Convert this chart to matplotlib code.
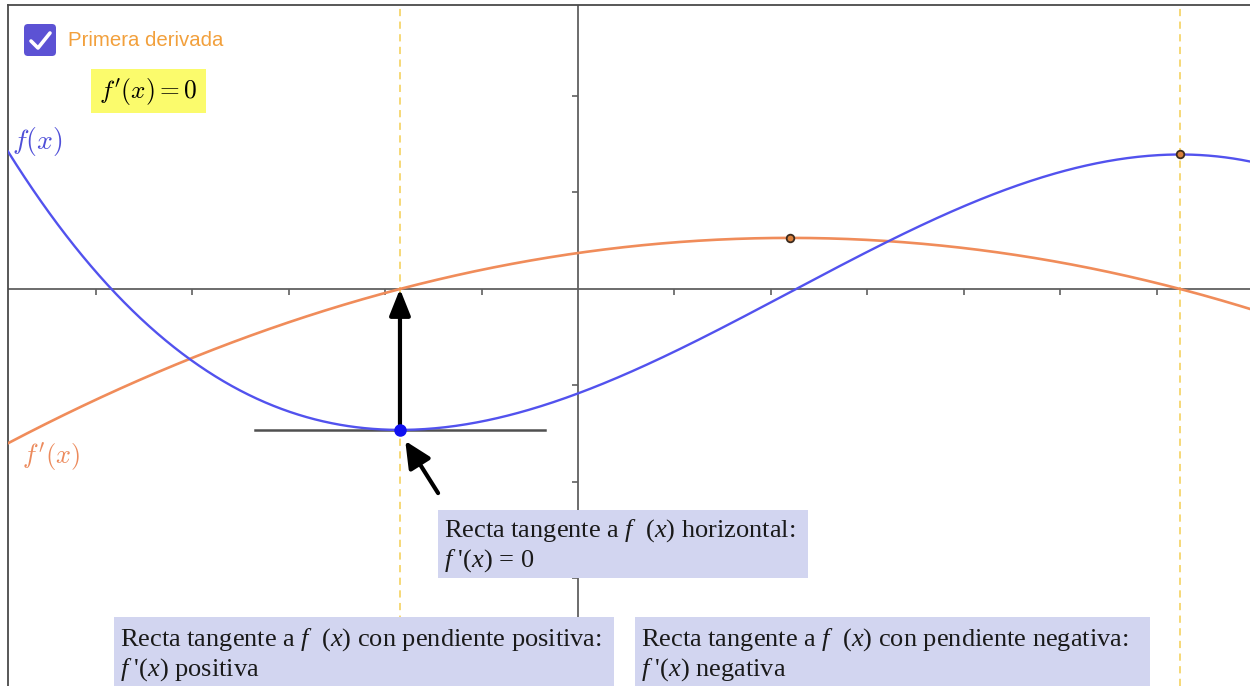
import numpy as np
import matplotlib.pyplot as plt
from matplotlib.patches import Rectangle, FancyBboxPatch
from matplotlib.transforms import Affine2D

plt.rcParams['mathtext.fontset'] = 'custom'
plt.rcParams['mathtext.rm'] = 'Liberation Serif'
plt.rcParams['mathtext.it'] = 'Liberation Serif:italic'

# f'(x) = k (x - r1)(x - r2), f is its antiderivative with f(0) = f0
deriv_roots = [-1.845, 6.24]
deriv_k = -0.0324
f0 = -1.082

x_ticks = [-5, -4, -3, -2, -1, 1, 2, 3, 4, 5, 6]
y_ticks = [-4, -3, -2, -1, 1, 2]
tangent_half = 1.5

W, H = 1250, 686
fig = plt.figure(figsize=(W / 100, H / 100), dpi=100)
# overlay positions in pixels, origin top-left
px = Affine2D().scale(1 / W, -1 / H).translate(0, 1) + fig.transFigure

ax = fig.add_axes([8 / W, 0, 1 - 8 / W, 681 / H])
ax.set_xlim(-5.907, 6.964)
ax.set_ylim(-4.114, 2.943)
ax.set_xticks([])
ax.set_yticks([])
for side in ['right', 'bottom']:
    ax.spines[side].set_visible(False)
for side in ['top', 'left']:
    ax.spines[side].set_color('#4a4a4a')
    ax.spines[side].set_linewidth(1.3)

dcoef = deriv_k * np.poly(deriv_roots)
fcoef = np.polyint(dcoef, k=f0)
f = lambda t: np.polyval(fcoef, t)
df = lambda t: np.polyval(dcoef, t)

x_lo, x_hi = ax.get_xlim()
xs = np.linspace(x_lo, x_hi, 600)

# axes
ax.axhline(0, color='#606060', lw=1.3, zorder=1)
ax.axvline(0, color='#606060', lw=1.3, zorder=1)
ax.plot(x_ticks, np.zeros(len(x_ticks)), ls='', marker=3, ms=4, mew=1.2, color='#606060')
ax.plot(np.zeros(len(y_ticks)), y_ticks, ls='', marker=0, ms=4, mew=1.2, color='#606060')

x_min, x_max = deriv_roots
x_top = np.mean(deriv_roots)
for xv in deriv_roots:
    ax.axvline(xv, color='#f6d66c', ls=(0, (4, 3)), lw=1.3, zorder=1)

ax.plot(xs, df(xs), color='#f08c5a', lw=1.9, zorder=3)
ax.plot(xs, f(xs), color='#5252ee', lw=1.7, zorder=3)

# horizontal tangent at the minimum
ax.plot([x_min - tangent_half, x_min + tangent_half], [f(x_min), f(x_min)],
        color='#505050', lw=1.8, zorder=2)

ax.annotate('', xy=(x_min, 0), xytext=(x_min, f(x_min)),
            arrowprops=dict(arrowstyle='-|>,head_length=0.8,head_width=0.32', lw=3,
                            color='black', mutation_scale=20, shrinkA=0, shrinkB=0),
            zorder=4)
ax.annotate('', xy=(-1.79, -1.575), xytext=(-1.45, -2.115),
            arrowprops=dict(arrowstyle='-|>,head_length=0.8,head_width=0.38', lw=3,
                            color='black', mutation_scale=20, shrinkA=0, shrinkB=0),
            zorder=4)

ax.plot([x_min], [f(x_min)], 'o', color='#1010f0', ms=8, zorder=5)
ax.plot([x_top, x_max], [df(x_top), f(x_max)], 'o', mfc='#d9803c', mec='#3b2a1e',
        ms=5.5, mew=1.3, zorder=5)

# curve labels
fig.text(12, 142, r"$f(x)$", transform=px, color='#4f4fd8', fontsize=20,
         va='center', ha='left', math_fontfamily='cm')
fig.text(22, 457, r"$f'(x)$", transform=px, color='#ec8a5c', fontsize=19,
         va='center', ha='left', math_fontfamily='cm')

# checkbox
fig.patches.append(FancyBboxPatch((24, 24), 32, 32, boxstyle='round,pad=0,rounding_size=4',
                                  transform=px, facecolor='#5c52d4', edgecolor='none'))
fig.lines.append(plt.Line2D([31, 38, 50], [41, 48, 33], transform=px, color='white',
                            lw=2.6, solid_capstyle='round', solid_joinstyle='round'))
fig.text(68, 41, 'Primera derivada', transform=px, color='#f2a03c', fontsize=14.7,
         family='Liberation Sans', va='center', ha='left')

fig.patches.append(Rectangle((91, 69), 115, 44, transform=px, facecolor='#fbfb6c',
                             edgecolor='none'))
fig.text(148, 92, r"$f'(x) = 0$", transform=px, fontsize=18.3, va='center', ha='center',
         math_fontfamily='cm')

# explanation boxes
notes = [
    (438, 510, 370, 68, 537,
     r"Recta tangente a $\mathit{f}$  $\mathit{(x)}$ horizontal:",
     r"$\mathit{f}$ '$\mathit{(x)}$ = 0"),
    (114, 617, 500, 69, 646,
     r"Recta tangente a $\mathit{f}$  $\mathit{(x)}$ con pendiente positiva:",
     r"$\mathit{f}$ '$\mathit{(x)}$ positiva"),
    (635, 617, 515, 69, 646,
     r"Recta tangente a $\mathit{f}$  $\mathit{(x)}$ con pendiente negativa:",
     r"$\mathit{f}$ '$\mathit{(x)}$ negativa"),
]
for bx, by, bw, bh, base, line1, line2 in notes:
    fig.patches.append(Rectangle((bx, by), bw, bh, transform=px, facecolor='#d2d5f0',
                                 edgecolor='none', zorder=6))
    for dy, s in [(0, line1), (30, line2)]:
        fig.text(bx + 6, base + dy, s, transform=px, fontsize=19, family='Liberation Serif',
                 color='#1a1a1a', va='baseline', ha='left', math_fontfamily='custom',
                 zorder=7)

fig.savefig('out.png', dpi=100)
